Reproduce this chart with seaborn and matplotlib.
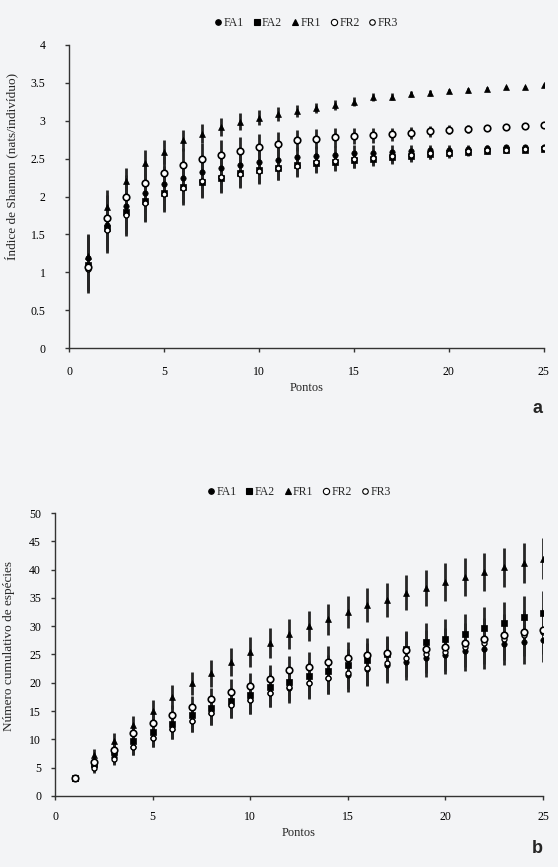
import matplotlib
matplotlib.use('Agg')
import matplotlib.pyplot as plt
import seaborn as sns
import pandas as pd
from matplotlib.ticker import FormatStrFormatter, MultipleLocator
from matplotlib.lines import Line2D

# pontos amostrais
pontos = list(range(1, 26))
series = ['FA1', 'FA2', 'FR1', 'FR2', 'FR3']

# painel a - índice de Shannon
shannon_fa1 = [1.19, 1.62, 1.87, 2.05, 2.17, 2.25, 2.33, 2.37, 2.42, 2.45, 2.48, 2.52, 2.54,
               2.55, 2.57, 2.58, 2.59, 2.60, 2.61, 2.62, 2.63, 2.64, 2.65, 2.65, 2.66]
shannon_fa2 = [1.10, 1.58, 1.79, 1.94, 2.05, 2.13, 2.19, 2.25, 2.31, 2.35, 2.38, 2.41, 2.44,
               2.46, 2.48, 2.50, 2.52, 2.54, 2.56, 2.57, 2.59, 2.60, 2.61, 2.62, 2.63]
shannon_fr1 = [1.21, 1.86, 2.20, 2.44, 2.59, 2.74, 2.83, 2.92, 2.99, 3.04, 3.09, 3.13, 3.17,
               3.21, 3.25, 3.31, 3.32, 3.35, 3.37, 3.39, 3.40, 3.42, 3.44, 3.45, 3.47]
shannon_fr2 = [1.07, 1.72, 2.00, 2.18, 2.31, 2.42, 2.49, 2.55, 2.60, 2.66, 2.69, 2.74, 2.76,
               2.78, 2.80, 2.81, 2.82, 2.84, 2.86, 2.88, 2.89, 2.91, 2.92, 2.93, 2.94]
shannon_fr3 = [1.04, 1.56, 1.76, 1.92, 2.03, 2.11, 2.20, 2.26, 2.30, 2.34, 2.38, 2.40, 2.45,
               2.47, 2.49, 2.51, 2.53, 2.55, 2.57, 2.58, 2.60, 2.61, 2.62, 2.63, 2.64]
erro_a_fr1 = [0.28, 0.22, 0.18, 0.17, 0.16, 0.14, 0.13, 0.12, 0.11, 0.10, 0.09, 0.08, 0.07,
              0.07, 0.06, 0.05, 0.05, 0.04, 0.04, 0.03, 0.03, 0.02, 0.02, 0.01, 0.01]
erro_a = [0.32, 0.30, 0.28, 0.26, 0.23, 0.22, 0.21, 0.20, 0.19, 0.17, 0.16, 0.14, 0.13,
          0.12, 0.11, 0.10, 0.09, 0.08, 0.07, 0.06, 0.05, 0.04, 0.03, 0.03, 0.02]

# painel b - número cumulativo de espécies
especies_fa1 = [3.2, 5.3, 6.9, 8.7, 10.3, 11.9, 13.3, 14.6, 16.0, 16.9, 18.2, 19.0, 19.9,
                20.8, 21.3, 22.5, 23.1, 23.7, 24.3, 24.9, 25.6, 26.05, 26.9, 27.2, 27.6]
especies_fa2 = [3.2, 5.6, 7.8, 9.7, 11.3, 12.8, 14.3, 15.6, 16.8, 17.8, 19.3, 20.2, 21.2,
                22.1, 23.1, 24.0, 25.0, 25.9, 27.2, 27.8, 28.7, 29.75, 30.6, 31.6, 32.3]
especies_fr1 = [3.2, 7.2, 9.76, 12.5, 15.05, 17.5, 19.9, 21.7, 23.7, 25.45, 27.05, 28.6, 30.0,
                31.2, 32.5, 33.8, 34.7, 35.9, 36.8, 37.8, 38.7, 39.6, 40.4, 41.2, 41.9]
especies_fr2 = [3.2, 6.05, 8.2, 11.05, 12.9, 14.3, 15.75, 17.05, 18.4, 19.4, 20.6, 22.2, 22.8,
                23.7, 24.3, 24.9, 25.2, 25.75, 26.05, 26.3, 27.0, 27.8, 28.4, 29.0, 29.4]
especies_fr3 = [3.2, 5.0, 6.6, 8.7, 10.3, 11.9, 13.3, 14.6, 16.05, 16.9, 18.2, 19.3, 20.0,
                20.8, 21.8, 22.6, 23.5, 24.3, 25.0, 25.5, 26.3, 27.0, 27.8, 28.5, 29.0]
erro_b_fr1 = [0.2, 1.1, 1.4, 1.6, 1.9, 2.1, 2.0, 2.4, 2.5, 2.65, 2.7, 2.7, 2.7,
              2.8, 2.9, 3.0, 3.0, 3.1, 3.2, 3.3, 3.3, 3.4, 3.5, 3.5, 3.6]
erro_b = [0.3, 0.9, 1.2, 1.4, 1.7, 1.8, 2.0, 2.1, 2.3, 2.4, 2.5, 2.6, 2.7,
          2.8, 2.9, 3.0, 3.1, 3.2, 3.3, 3.4, 3.5, 3.6, 3.7, 3.8, 3.9]


def monta_tabela(valores, erro_fr1, erro_outros):
    linhas = []
    for serie, vals in zip(series, valores):
        erros = erro_fr1 if serie == 'FR1' else erro_outros
        for p, v, e in zip(pontos, vals, erros):
            linhas.append({'ponto': p, 'serie': serie, 'valor': v, 'erro': e})
    return pd.DataFrame(linhas)


df_a = monta_tabela([shannon_fa1, shannon_fa2, shannon_fr1, shannon_fr2, shannon_fr3],
                    erro_a_fr1, erro_a)
df_b = monta_tabela([especies_fa1, especies_fa2, especies_fr1, especies_fr2, especies_fr3],
                    erro_b_fr1, erro_b)

# estilo dos marcadores
estilo = {
    'FA1': dict(marker='o', s=15, color='black', edgecolor='black', linewidth=0.5),
    'FA2': dict(marker='s', s=14, color='black', edgecolor='black', linewidth=0.5),
    'FR1': dict(marker='^', s=18, color='black', edgecolor='black', linewidth=0.5),
    'FR2': dict(marker='o', s=22, color='white', edgecolor='black', linewidth=1.2),
    'FR3': dict(marker='o', s=13, color='white', edgecolor='black', linewidth=1.0),
}

sns.set_theme(style='ticks')
plt.rcParams['font.family'] = ['Liberation Serif', 'DejaVu Serif']

fundo = '#f3f4f6'
fig = plt.figure(figsize=(5.58, 8.67), dpi=100, facecolor=fundo)
ax_a = fig.add_axes([0.1237, 0.5986, 0.851, 0.3495])
ax_b = fig.add_axes([0.0986, 0.0819, 0.8746, 0.3264])


def desenha(ax, df):
    ax.set_facecolor(fundo)
    # barras de erro primeiro
    for serie in series:
        sub = df[df['serie'] == serie]
        ax.errorbar(sub['ponto'], sub['valor'], yerr=sub['erro'], fmt='none',
                    ecolor='#262626', elinewidth=2.0, capsize=0, zorder=1)
    for serie in ['FR1', 'FA2', 'FA1', 'FR3', 'FR2']:
        sub = df[df['serie'] == serie]
        sns.scatterplot(data=sub, x='ponto', y='valor', ax=ax, zorder=3, legend=False,
                        **estilo[serie])
    sns.despine(ax=ax)
    for lado in ['left', 'bottom']:
        ax.spines[lado].set_color('#333333')
        ax.spines[lado].set_linewidth(1.0)
    ax.set_xlim(0, 25)
    ax.xaxis.set_major_locator(MultipleLocator(5))
    ax.set_xlabel('Pontos', fontsize=9)
    ax.tick_params(colors='#333333', labelcolor='black', length=3, width=1.0, labelsize=8.5)


def legenda(ax, y):
    handles = []
    for serie in series:
        st = estilo[serie]
        handles.append(Line2D([], [], linestyle='none', marker=st['marker'],
                              markersize=4 if serie != 'FR2' else 4.5,
                              markerfacecolor=st['color'], markeredgecolor='black',
                              markeredgewidth=0.8, label=serie))
    ax.legend(handles=handles, ncol=5, loc='center', bbox_to_anchor=(0.5, y),
              frameon=False, fontsize=8.5, handlelength=0.6, handletextpad=0.15,
              columnspacing=0.8)


# painel a
desenha(ax_a, df_a)
ax_a.set_ylim(0, 4)
ax_a.yaxis.set_major_locator(MultipleLocator(0.5))
ax_a.yaxis.set_major_formatter(FormatStrFormatter('%g'))
ax_a.tick_params(axis='y', pad=14)
ax_a.tick_params(axis='x', pad=10)
ax_a.set_ylabel('Índice de Shannon (nats/indivíduo)', fontsize=9.5)
ax_a.yaxis.set_label_coords(-0.107, 0.6)
ax_a.xaxis.labelpad = 3
legenda(ax_a, 1.073)
fig.text(0.963, 0.529, 'a', fontsize=13, fontweight='bold', family='Liberation Sans',
         ha='center', va='center')

# painel b
desenha(ax_b, df_b)
ax_b.set_ylim(0, 50)
ax_b.yaxis.set_major_locator(MultipleLocator(5))
ax_b.tick_params(axis='y', pad=7)
ax_b.tick_params(axis='x', pad=8)
ax_b.set_ylabel('Número cumulativo de espécies', fontsize=9.5)
ax_b.yaxis.set_label_coords(-0.082, 0.53)
ax_b.xaxis.labelpad = 3
legenda(ax_b, 1.075)
fig.text(0.963, 0.011, 'b', fontsize=13, fontweight='bold', family='Liberation Sans',
         ha='center', va='bottom')

fig.savefig('out.png', dpi=100, facecolor=fundo)
